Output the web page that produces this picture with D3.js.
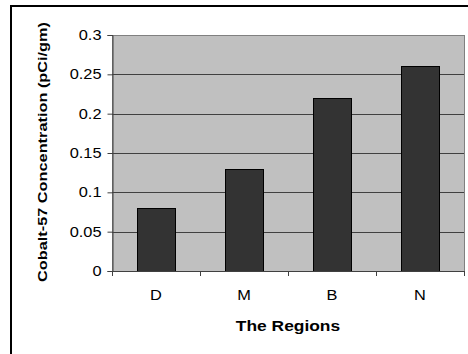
<!DOCTYPE html>
<html><head><meta charset="utf-8">
<script src="https://cdn.jsdelivr.net/npm/d3@7"></script>
<style>body{margin:0;background:#fff}svg{display:block}</style>
</head><body>
<script>
const categories = ["D", "M", "B", "N"];
const values = [0.08, 0.13, 0.22, 0.26];
const yTicks = [0, 0.05, 0.1, 0.15, 0.2, 0.25, 0.3];
const xTitle = "The Regions";
const yTitle = "Cobalt-57 Concentration  (pCi/gm)";

(function(){
const W = 468, H = 354;
const svg = d3.select("body").append("svg").attr("width", W).attr("height", H);
const font = "Arial, 'Liberation Sans', sans-serif";

svg.append("path").attr("d", `M11,${H} L11,6 L${W},6`).attr("fill","none").attr("stroke","#000").attr("stroke-width",2);

const pl = 112, pr = 464, pt = 35, pb = 271;
const x = d3.scaleBand().domain(categories).range([pl, pr]).paddingInner(0.57).paddingOuter(0.285);
const y = d3.scaleLinear().domain([0, 0.3]).range([pb, pt]);

svg.append("rect").attr("x", pl+0.5).attr("y", pt+0.5).attr("width", pr-pl).attr("height", pb-pt)
  .attr("fill", "#c0c0c0").attr("stroke", "#808080").attr("stroke-width", 1);

svg.append("g").selectAll("line").data(yTicks.filter(d => d > 0 && d < 0.3)).join("line")
  .attr("x1", pl).attr("x2", pr).attr("y1", d => Math.round(y(d))+0.5).attr("y2", d => Math.round(y(d))+0.5)
  .attr("stroke", "#404040").attr("stroke-width", 1);

svg.append("g").selectAll("rect").data(values).join("rect")
  .attr("x", (d,i) => Math.round(x(categories[i]))+0.5)
  .attr("width", Math.round(x.bandwidth()))
  .attr("y", d => Math.round(y(d))+0.5)
  .attr("height", d => pb - Math.round(y(d)))
  .attr("fill", "#333333").attr("stroke", "#000").attr("stroke-width", 1);

const yAxis = d3.axisLeft(y).tickValues(yTicks).tickSize(5).tickPadding(6).tickFormat(d => String(+d.toFixed(2)));
const gy = svg.append("g").attr("transform", `translate(${pl+0.5},0)`).call(yAxis);
gy.select(".domain").attr("stroke", "#404040");
gy.selectAll(".tick line").attr("stroke", "#404040");
gy.selectAll(".tick text").attr("font-family", font).attr("font-size", 14).attr("fill", "#000")
  .each(function(){ const t = d3.select(this); const xx = +t.attr("x"); t.attr("x", null).attr("transform", `translate(${xx},0) scale(1.17,1)`); });

const bounds = categories.map((c,i) => pl + i*(pr-pl)/categories.length).concat([pr]);
svg.append("line").attr("x1", pl).attr("x2", pr).attr("y1", pb+0.5).attr("y2", pb+0.5).attr("stroke","#404040");
svg.append("g").selectAll("line").data(bounds).join("line")
  .attr("x1", d => Math.round(d)+0.5).attr("x2", d => Math.round(d)+0.5)
  .attr("y1", pb).attr("y2", pb+5).attr("stroke", "#404040");
svg.append("g").selectAll("text").data(categories).join("text")
  .attr("transform", d => `translate(${x(d)+x.bandwidth()/2},300) scale(1.17,1)`)
  .attr("text-anchor", "middle").attr("font-family", font).attr("font-size", 14).text(d => d);

svg.append("text").attr("transform", `translate(288,331) scale(1.2,1)`).attr("text-anchor","middle")
  .attr("font-family", font).attr("font-size", 14.5).attr("font-weight","bold").text(xTitle);

svg.append("text").attr("transform", `translate(47,152) rotate(-90)`).attr("text-anchor","middle")
  .attr("font-family", font).attr("font-size", 13).attr("font-weight","bold")
  .attr("textLength", 260).attr("lengthAdjust", "spacingAndGlyphs").text(yTitle);
})();
</script>
</body></html>
